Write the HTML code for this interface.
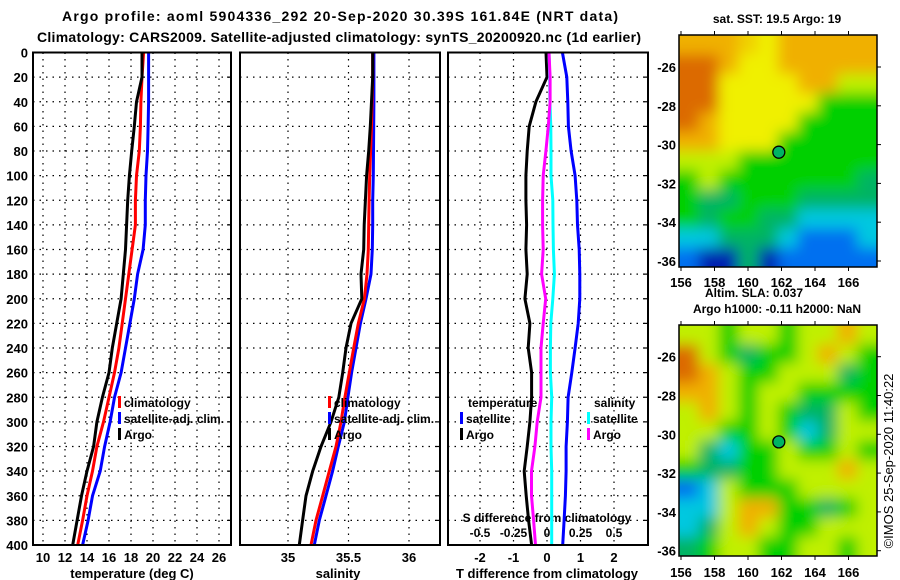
<!DOCTYPE html>
<html><head><meta charset="utf-8"><style>
html,body{margin:0;padding:0;background:#fff;}
svg{display:block;font-family:"Liberation Sans",Arial,sans-serif;font-weight:bold;}
</style></head><body>
<svg id="c" width="900" height="580" viewBox="0 0 900 580">
<defs>
<filter id="bl" x="-10%" y="-10%" width="120%" height="120%"><feGaussianBlur stdDeviation="7"/></filter>
<clipPath id="cm1"><rect x="679" y="35" width="198" height="232"/></clipPath>
<clipPath id="cm2"><rect x="679" y="325" width="198" height="231"/></clipPath>
</defs>
<text x="340" y="21" text-anchor="middle" font-size="14" textLength="556">Argo profile: aoml 5904336_292 20-Sep-2020 30.39S 161.84E (NRT data)</text>
<text x="339" y="42" text-anchor="middle" font-size="14" textLength="604">Climatology: CARS2009. Satellite-adjusted climatology: synTS_20200920.nc (1d earlier)</text>
</svg>
<script>
// ---- data ----
const depths=[0,20,40,60,80,100,120,140,160,180,200,220,240,260,280,300,320,340,360,380,400];
const tempClim=[19.15,19.0,18.9,18.85,18.75,18.5,18.4,18.4,18.1,17.8,17.5,17.2,16.9,16.5,16.0,15.5,14.9,14.5,14.0,13.6,13.15];
const tempSat=[19.6,19.6,19.6,19.55,19.5,19.36,19.3,19.3,19.1,18.6,18.3,17.9,17.5,17.1,16.5,16.1,15.6,15.2,14.5,14.1,13.6];
const tempArgo=[19.0,19.0,18.5,18.3,18.06,17.85,17.7,17.6,17.5,17.3,17.1,16.7,16.3,16.0,15.4,14.9,14.6,14.0,13.5,13.1,12.7];
const salClim=[35.70,35.70,35.695,35.69,35.683,35.675,35.67,35.667,35.664,35.653,35.631,35.581,35.543,35.507,35.47,35.438,35.397,35.341,35.287,35.231,35.19];
const salSat=[35.71,35.71,35.71,35.708,35.707,35.705,35.70,35.70,35.697,35.686,35.645,35.598,35.562,35.526,35.495,35.466,35.416,35.369,35.314,35.259,35.217];
const salArgo=[35.70,35.70,35.69,35.68,35.667,35.65,35.64,35.63,35.626,35.603,35.61,35.521,35.479,35.452,35.42,35.355,35.273,35.204,35.149,35.121,35.093];
const dTSat=[0.46,0.59,0.62,0.64,0.72,0.84,0.89,0.91,0.96,0.98,0.98,0.93,0.84,0.74,0.63,0.61,0.57,0.57,0.55,0.51,0.47];
const dTArgo=[-0.03,0,-0.33,-0.53,-0.59,-0.63,-0.63,-0.61,-0.63,-0.59,-0.66,-0.51,-0.56,-0.46,-0.46,-0.51,-0.59,-0.68,-0.62,-0.55,-0.46];
const dSSat=[0.015,0.02,0.022,0.028,0.03,0.03,0.043,0.045,0.048,0.055,0.043,0.028,0.025,0.025,0.035,0.03,0.03,0.035,0.035,0.035,0.035];
const dSArgo=[0.015,0.023,0.023,0.01,-0.008,-0.028,-0.033,-0.033,-0.028,-0.04,-0.01,-0.028,-0.045,-0.045,-0.045,-0.073,-0.09,-0.116,-0.116,-0.10,-0.086];
const depthTicks=[0,20,40,60,80,100,120,140,160,180,200,220,240,260,280,300,320,340,360,380,400];
const tempTicks=[10,12,14,16,18,20,22,24,26];
const salTicks=[35,35.5,36];
const salTickLabels=["35","35.5","36"];
const dTTicks=[-2,-1,0,1,2];
const dSTicks=[-0.5,-0.25,0,0.25,0.5];
const latTicks=[-26,-28,-30,-32,-34,-36];
const lonTicks=[156,158,160,162,164,166];
const argoLon=161.84, argoLat=-30.39;
const map1Rows=["ooo Yooooo","OOoYYooooo","OOYYYYooyy","OOYYYYYGGG","OoYYYYGGGG","ooYYYGGGGG","yyyGGGGGGG","GyGGGGGGGT","GTTGGGTTTT","GTGGTTcccc","ccTTTcbbbc","bBBTBbbbbb"];
const map2Rows=["yyGyyGyyoy","OyGTGGyoyG","OoyGGyyyTG","ooyGyyGGGG","yoyGyGTTyG","yyGGyGcTyy","yTcGGyGGyG","GTTGGyyyoy","bcyGGGyyyy","ccyooGGTGy","cTyoyGGyyy","TGyyGGyyGy"];

// ---- axes ----
const NS="http://www.w3.org/2000/svg";
const svg=document.getElementById('c');
const yTop=52.5, yPx=(545-52.5)/400;
const yD=d=>yTop+d*yPx;
const xT=t=>43+(t-10)*11;
const xS=s=>288+(s-35)*121;
const xDT=t=>547+t*33.5;
const xDS=s=>547+s*134;
function el(tag,attrs,parent){const e=document.createElementNS(NS,tag);for(const k in attrs)e.setAttribute(k,attrs[k]);(parent||svg).appendChild(e);return e;}
function txt(x,y,s,anchor,size,parent){const t=el('text',{x:x,y:y,'text-anchor':anchor||'middle','font-size':size||13},parent);t.textContent=s;return t;}

const panels=[{x0:33,x1:231,name:'temperature'},{x0:240,x1:440,name:'salinity'},{x0:448,x1:648,name:'difference'}];
panels.forEach((p,i)=>{
  const g=el('g',{});
  
  
  depthTicks.forEach(d=>{
    const l=el('line',{x1:p.x0,x2:p.x1,y1:yD(d),y2:yD(d),stroke:'#000','stroke-width':1.2,'stroke-dasharray':'1.5,5'},g);
    
    
    const tk=el('line',{x1:p.x1-4,x2:p.x1,y1:yD(d),y2:yD(d),stroke:'#000','stroke-width':1.2},g);
    
    
  });
  p.g=g;
});
depthTicks.forEach(d=>{const t=txt(28,yD(d)+5,String(d),'end',13);
  
  });
function vgrid(p,ticks,fx,labels,ly){
  ticks.forEach((v,i)=>{
    const l=el('line',{x1:fx(v),x2:fx(v),y1:yTop,y2:545,stroke:'#000','stroke-width':1.2,'stroke-dasharray':'1.5,5'},p.g);
    
    
    if(ly){const t=txt(fx(v),ly,labels?labels[i]:String(v),'middle',13);
    
    }
  });
}
vgrid(panels[0],tempTicks,xT,null,562);
vgrid(panels[1],salTicks,xS,salTickLabels,562);
vgrid(panels[2],dTTicks,xDT,null,562);
dSTicks.forEach(v=>{const t=txt(xDS(v),537,String(v),'middle',12);
  
  });
let t;
t=txt(132,578,'temperature (deg C)');
t=txt(338,578,'salinity');
t=txt(547,578,'T difference from climatology');
t=txt(547,522,'S difference from climatology','middle',12);

function series(vals,fx,color,name){
  const pts=vals.map((v,i)=>fx(v).toFixed(1)+','+yD(depths[i]).toFixed(1)).join(' ');
  const pl=el('polyline',{points:pts,fill:'none',stroke:color,'stroke-width':3,'stroke-linejoin':'miter'});
  
  
}
series(tempSat,xT,'#0000ff','temp-satellite-line');
series(tempClim,xT,'#ff0000','temp-climatology-line');
series(tempArgo,xT,'#000000','temp-argo-line');
series(salSat,xS,'#0000ff','sal-satellite-line');
series(salClim,xS,'#ff0000','sal-climatology-line');
series(salArgo,xS,'#000000','sal-argo-line');
series(dTSat,xDT,'#0000ff','tdiff-satellite-line');
series(dTArgo,xDT,'#000000','tdiff-argo-line');
series(dSSat,xDS,'#00ffff','sdiff-satellite-line');
series(dSArgo,xDS,'#ff00ff','sdiff-argo-line');

panels.forEach(p=>{const r=el('rect',{x:p.x0,y:yTop,width:p.x1-p.x0,height:545-yTop,fill:'none',stroke:'#000','stroke-width':2});
  });

function leg(x,y,color,label,name){
  const b=el('rect',{x:x,y:y-11,width:3,height:12,fill:color});
  
  const tt=txt(x+6,y,label,'start',12);
  
}
leg(118,407,'#ff0000','climatology','legend-temp-climatology');
leg(118,423,'#0000ff','satellite-adj. clim.','legend-temp-satellite');
leg(118,439,'#000000','Argo','legend-temp-argo');
leg(328,407,'#ff0000','climatology','legend-sal-climatology');
leg(328,423,'#0000ff','satellite-adj. clim.','legend-sal-satellite');
leg(328,439,'#000000','Argo','legend-sal-argo');
t=txt(468,407,'temperature','start',12);
leg(460,423,'#0000ff','satellite','legend-tdiff-satellite');
leg(460,439,'#000000','Argo','legend-tdiff-argo');
t=txt(594,407,'salinity','start',12);
leg(587,423,'#00ffff','satellite','legend-sdiff-satellite');
leg(587,439,'#ff00ff','Argo','legend-sdiff-argo');

const pal={O:'#dc6a00',o:'#f0b000',Y:'#f0f000',y:'#c0f000',G:'#00d000',T:'#00b464',c:'#00c8e0',b:'#0070f0',B:'#0020b0',' ':'#f0d000'};
function drawMap(rows,mx,my,mw,mh,lat26y,clip,name,lonY){
  const g=el('g',{'clip-path':'url(#'+clip+')'});
  
  
  el('rect',{x:mx,y:my,width:mw,height:mh,fill:'#60d800'},g);
  const inner=el('g',{filter:'url(#bl)'},g);
  const nr=rows.length,nc=rows[0].length,cw=mw/nc,ch=mh/nr;
  rows.forEach((r,i)=>{for(let j=0;j<nc;j++){
    const c=el('rect',{x:mx+j*cw-(j==0?14:0),y:my+i*ch-(i==0?14:0),width:cw+1+(j==0||j==nc-1?14:0),height:ch+1+(i==0||i==nr-1?14:0),fill:pal[r[j]]},inner);
    
    
  }});
  const lx=l=>681+(l-156)*16.75, ly=l=>lat26y+(-26-l)*19.4;
  const m=el('circle',{cx:lx(argoLon),cy:ly(argoLat),r:6,fill:'#00b464',stroke:'#000','stroke-width':1.3});
  
  const fr=el('rect',{x:mx,y:my,width:mw,height:mh,fill:'none',stroke:'#000','stroke-width':1.5});
  
  latTicks.forEach(l=>{const tt=txt(676,ly(l)+5,String(l),'end',13);
    
    el('line',{x1:mx+mw,x2:mx+mw+4,y1:ly(l),y2:ly(l),stroke:'#000'});});
  lonTicks.forEach(l=>{const tt=txt(lx(l),lonY,String(l),'middle',13);
    
    el('line',{x1:lx(l),x2:lx(l),y1:my-4,y2:my,stroke:'#000'});
    el('line',{x1:lx(l),x2:lx(l),y1:my+mh,y2:my+mh+4,stroke:'#000'});});
}
drawMap(map1Rows,679,35,198,232,67,'cm1','sst-map',287);
drawMap(map2Rows,679,325,198,231,356.7,'cm2','sla-map',577);
t=txt(777,23,'sat. SST: 19.5 Argo: 19','middle',12);
t=txt(754,297,'Altim. SLA: 0.037','middle',12);
t=txt(777,313,'Argo h1000: -0.11 h2000: NaN','middle',12);
t=txt(0,0,'©IMOS 25-Sep-2020 11:40:22','middle',13);
t.setAttribute('transform','translate(893,461) rotate(-90)');
t.setAttribute('font-weight','normal');

</script>
</body></html>
